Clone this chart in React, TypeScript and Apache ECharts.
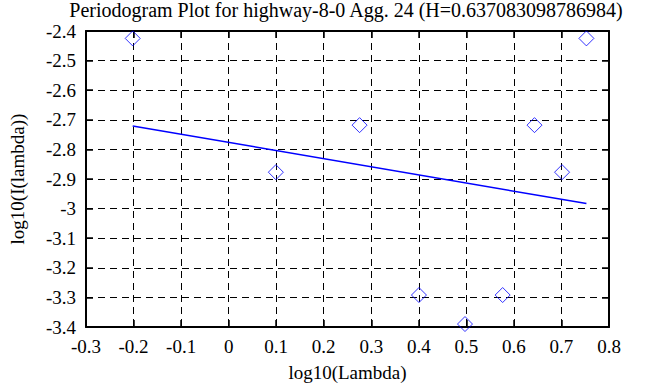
import React, { useEffect, useRef } from "react";
import * as echarts from "echarts";

const TITLE = "Periodogram Plot for highway-8-0 Agg. 24 (H=0.637083098786984)";
const X_NAME = "log10(Lambda)";
const Y_NAME = "log10(I(lambda))";

// log10 of frequency (lambda)
const logLambda = [-0.2018, 0.0993, 0.2754, 0.4003, 0.4971, 0.5763, 0.6433, 0.7013, 0.7525];
// log10 of periodogram I(lambda)
const logI = [-2.425, -2.877, -2.718, -3.292, -3.39, -3.292, -2.718, -2.877, -2.425];

// least-squares fit line endpoints
const fitX = [-0.2018, 0.7525];
const fitY = [-2.721, -2.983];

const FONT = "'Liberation Serif', 'Times New Roman', serif";

export default function App() {
  const ref = useRef<HTMLDivElement>(null);
  useEffect(() => {
    document.body.style.margin = "0";
    const chart = echarts.init(ref.current!, null, { renderer: "svg" });
    const axisCommon = {
      type: "value" as const,
      axisLine: { show: true, onZero: false, lineStyle: { color: "#000", width: 2 } },
      axisTick: { show: true, inside: true, length: 7, lineStyle: { color: "#000", width: 1.5 } },
    };
    chart.setOption({
      animation: false,
      backgroundColor: "#fff",
      title: {
        text: TITLE,
        left: 346,
        textAlign: "center",
        top: 0,
        padding: 0,
        textStyle: { fontFamily: FONT, fontSize: 20, fontWeight: "normal", color: "#000" },
      },
      grid: { left: 82, right: 54, top: 31, bottom: 57 },
      xAxis: [
        {
          ...axisCommon,
          position: "bottom",
          min: -0.3,
          max: 0.8,
          interval: 0.1,
          name: X_NAME,
          nameLocation: "middle",
          nameGap: 36,
          nameTextStyle: { fontFamily: FONT, fontSize: 19, color: "#000" },
          axisLabel: { fontFamily: FONT, fontSize: 19, color: "#000", margin: 10 },
          splitLine: { show: true, lineStyle: { color: "#000", width: 1, type: [7, 5] } },
        },
        {
          ...axisCommon,
          position: "top",
          min: -0.3,
          max: 0.8,
          interval: 0.1,
          axisLabel: { show: false },
          splitLine: { show: false },
        },
      ],
      yAxis: [
        {
          ...axisCommon,
          position: "left",
          min: -3.4,
          max: -2.4,
          interval: 0.1,
          name: Y_NAME,
          nameLocation: "middle",
          nameGap: 59,
          nameRotate: 90,
          nameTextStyle: { fontFamily: FONT, fontSize: 19, color: "#000" },
          axisLabel: { fontFamily: FONT, fontSize: 19, color: "#000", margin: 10 },
          splitLine: { show: true, lineStyle: { color: "#000", width: 1, type: [7, 5] } },
        },
        {
          ...axisCommon,
          position: "right",
          min: -3.4,
          max: -2.4,
          interval: 0.1,
          axisLabel: { show: false },
          splitLine: { show: false },
        },
      ],
      series: [
        {
          type: "scatter",
          data: logLambda.map((x, i) => [x, logI[i]]),
          symbol: "diamond",
          symbolSize: 15,
          clip: false,
          itemStyle: { color: "rgba(0,0,0,0)", borderColor: "#0000ff", borderWidth: 1 },
          z: 5,
        },
        {
          type: "line",
          data: fitX.map((x, i) => [x, fitY[i]]),
          showSymbol: false,
          symbol: "none",
          lineStyle: { color: "#0000ff", width: 1.5 },
          z: 4,
        },
      ],
    });
    return () => chart.dispose();
  }, []);
  return <div ref={ref} style={{ width: 663, height: 387 }} />;
}
